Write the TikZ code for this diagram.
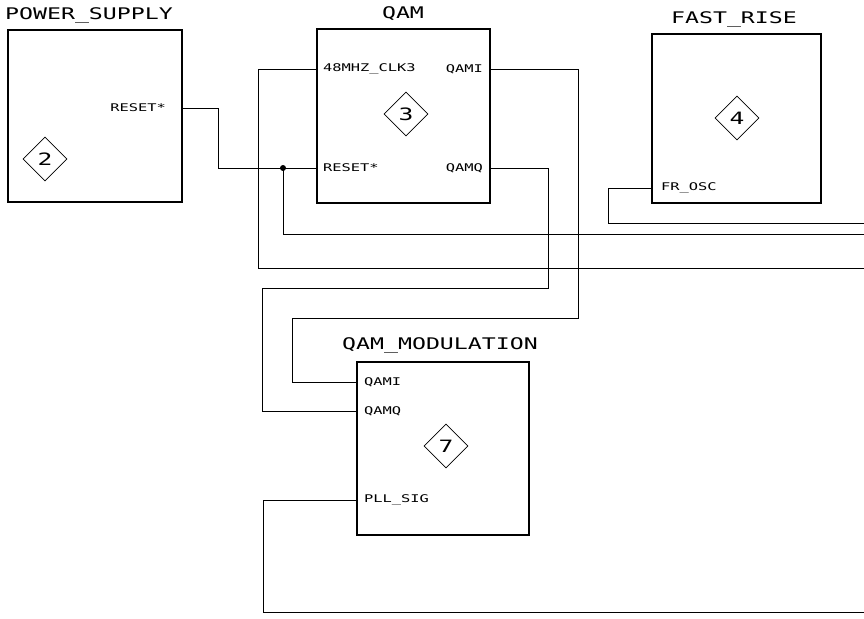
\documentclass[tikz,border=0pt]{standalone}
\usepackage{fontspec}
\usetikzlibrary{shapes.geometric}
\newfontfamily\cadfont[FakeStretch=1.45]{DejaVu Sans Mono}
\tikzset{
  blk/.style={draw, line width=2.4pt, inner sep=0pt},
  ttl/.style={font=\cadfont\fontsize{16}{17}\selectfont, inner sep=0pt},
  pinl/.style={font=\cadfont\fontsize{10.6}{11}\selectfont, inner sep=0pt, anchor=west},
  pinr/.style={font=\cadfont\fontsize{10.6}{11}\selectfont, inner sep=0pt, anchor=east},
  refd/.style={draw, shape=diamond, minimum width=44pt, minimum height=44pt, inner sep=0pt, line width=0.8pt, font=\cadfont\fontsize{17}{18}\selectfont},
  wire/.style={line width=0.9pt},
  dotj/.style={circle, fill, inner sep=0pt, minimum size=6pt}
}
\begin{document}
\begin{tikzpicture}[x=1pt,y=-1pt]
\useasboundingbox (0,0) rectangle (864,618);
% blocks
\node[blk, minimum width=174pt, minimum height=172pt] (ps) at (95,116) {};
\node[blk, minimum width=173pt, minimum height=174pt] (qam) at (403.5,116) {};
\node[blk, minimum width=169pt, minimum height=169pt] (fr) at (736.5,118.5) {};
\node[blk, minimum width=172pt, minimum height=173pt] (qm) at (443,448.5) {};
% titles
\node[ttl] (psT) at (89,15.5) {POWER\_SUPPLY};
\node[ttl] (qamT) at (403,14) {QAM};
\node[ttl] (frT) at (734,19) {FAST\_RISE};
\node[ttl] (qmT) at (440,345) {QAM\_MODULATION};
% reference diamonds
\node[refd] (d2) at (45,159) {2};
\node[refd] (d3) at (406,114) {3};
\node[refd] (d4) at (737,118) {4};
\node[refd] (d7) at (446,446) {7};
% pin points
\coordinate (psR) at (ps.east |- 0,108);
\coordinate (qamC) at (qam.west |- 0,69);
\coordinate (qamR) at (qam.west |- 0,168);
\coordinate (qamI) at (qam.east |- 0,69);
\coordinate (qamQ) at (qam.east |- 0,168);
\coordinate (frO) at (fr.west |- 0,188);
\coordinate (qmI) at (qm.west |- 0,382);
\coordinate (qmQ) at (qm.west |- 0,411);
\coordinate (qmP) at (qm.west |- 0,500);
% pin labels
\node[pinr] (lpsR) at (166,108) {RESET*};
\node[pinl] (lqamC) at (323,69) {48MHZ\_CLK3};
\node[pinl] (lqamR) at (323,168) {RESET*};
\node[pinr] (lqamI) at (483,69) {QAMI};
\node[pinr] (lqamQ) at (483,168) {QAMQ};
\node[pinl] (lfrO) at (661,188) {FR\_OSC};
\node[pinl] (lqmI) at (364,382) {QAMI};
\node[pinl] (lqmQ) at (364,411) {QAMQ};
\node[pinl] (lqmP) at (364,500) {PLL\_SIG};
% free ends at the right edge
\coordinate (eA) at (864,223);
\coordinate (eB) at (864,234);
\coordinate (eC) at (864,268);
\coordinate (eD) at (864,612);
% junction
\node[dotj] (jn) at (283,168) {};
% wires
\draw[wire] (psR) -- (218,108) -- (218,168) -- (qamR);
\draw[wire] (jn.center) -- (283,234) -- (eB);
\draw[wire] (qamC) -- (258,69) -- (258,268) -- (eC);
\draw[wire] (qamI) -- (578,69) -- (578,318) -- (292,318) -- (292,382) -- (qmI);
\draw[wire] (qamQ) -- (548,168) -- (548,288) -- (262,288) -- (262,411) -- (qmQ);
\draw[wire] (frO) -- (608,188) -- (608,223) -- (eA);
\draw[wire] (qmP) -- (263,500) -- (263,612) -- (eD);
\end{tikzpicture}
\end{document}
